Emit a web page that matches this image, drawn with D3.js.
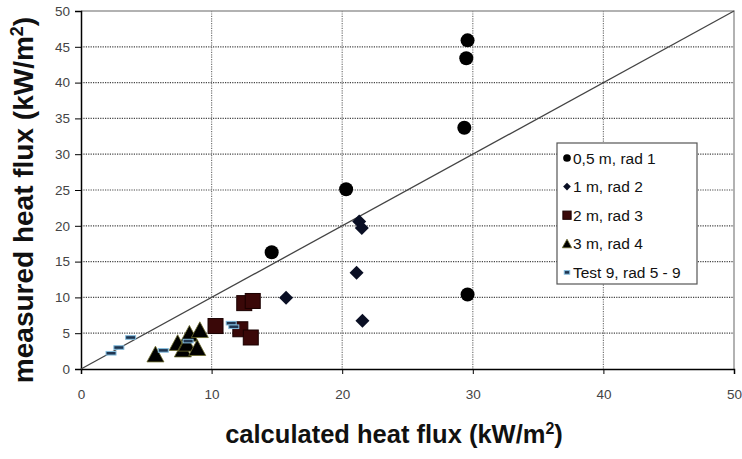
<!DOCTYPE html>
<html>
<head>
<meta charset="utf-8">
<script src="https://cdn.jsdelivr.net/npm/d3@7"></script>
<style>
  html, body { margin: 0; padding: 0; background: #fff; }
  svg { display: block; font-family: Arial, "Liberation Sans", sans-serif; }
</style>
</head>
<body>
<svg id="chart" width="742" height="459"></svg>
<script>
// Series: [calculated, measured] heat flux pairs (kW/m²)
const rad1 = [[14.6, 16.3], [20.3, 25.1], [29.35, 33.7], [29.5, 43.4], [29.6, 45.9], [29.6, 10.4]];
const rad2 = [[21.3, 20.6], [21.5, 19.7], [21.1, 13.45], [15.7, 9.95], [21.55, 6.75]];
const rad3 = [[10.3, 6.0], [12.5, 9.2], [13.15, 9.5], [12.2, 5.55], [13.0, 4.4]];
const rad4 = [[5.7, 2.0], [7.4, 3.6], [7.8, 2.7], [8.1, 3.5], [8.3, 4.9], [8.9, 2.9], [9.1, 5.4]];
const test9 = [[2.3, 2.2], [2.9, 3.0], [3.8, 4.4], [6.3, 2.6], [8.2, 3.9], [11.5, 6.4], [11.7, 5.9]];

const seriesNames = ["0,5 m, rad 1", "1 m, rad 2", "2 m, rad 3", "3 m, rad 4", "Test 9, rad 5 - 9"];
const xTicks = [0, 10, 20, 30, 40, 50];
const yTicks = [0, 5, 10, 15, 20, 25, 30, 35, 40, 45, 50];
const xTitle = "calculated heat flux (kW/m";
const yTitle = "measured heat flux (kW/m";

const svg = d3.select("#chart");
const plotL = 81, plotR = 734, plotT = 11, plotB = 369;

const x = d3.scaleLinear().domain([0, 50]).range([plotL, plotR]);
const y = d3.scaleLinear().domain([0, 50]).range([plotB, plotT]);

// dotted gridlines
svg.append("g").selectAll("line").data(yTicks.filter(v => v > 0 && v < 50)).join("line")
  .attr("x1", plotL).attr("x2", plotR)
  .attr("y1", d => y(d)).attr("y2", d => y(d))
  .attr("stroke", "#444").attr("stroke-width", 1.2).attr("stroke-dasharray", "1.2,1.2");
svg.append("g").selectAll("line").data(xTicks.filter(v => v > 0 && v < 50)).join("line")
  .attr("y1", plotT).attr("y2", plotB)
  .attr("x1", d => x(d)).attr("x2", d => x(d))
  .attr("stroke", "#777").attr("stroke-width", 1.2).attr("stroke-dasharray", "1.2,1.2");

// plot frame (top and right)
svg.append("path")
  .attr("d", `M${plotL},${plotT}H${plotR}V${plotB}`)
  .attr("fill", "none").attr("stroke", "#999").attr("stroke-width", 1.5);

// axes
const xAxis = svg.append("g").attr("transform", `translate(0,${plotB})`)
  .call(d3.axisBottom(x).tickValues(xTicks).tickSize(5).tickPadding(15));
const yAxis = svg.append("g").attr("transform", `translate(${plotL},0)`)
  .call(d3.axisLeft(y).tickValues(yTicks).tickSize(6).tickPadding(5));
[xAxis, yAxis].forEach(g => {
  g.select(".domain").attr("stroke", "#000").attr("stroke-width", 1.5);
  g.selectAll(".tick line").attr("stroke", "#000");
  g.selectAll("text").attr("font-size", 13.5).attr("fill", "#444")
    .attr("font-family", "Arial, 'Liberation Sans', sans-serif");
});

// 1:1 line
svg.append("line")
  .attr("x1", x(0)).attr("y1", y(0)).attr("x2", x(50)).attr("y2", y(50))
  .attr("stroke", "#444").attr("stroke-width", 1.3);

// marker painters
function drawCircle(g, cx, cy, s) {
  g.append("circle").attr("cx", cx).attr("cy", cy).attr("r", 7 * s).attr("fill", "#000");
}
function drawDiamond(g, cx, cy, s) {
  const r = 7 * s;
  g.append("path").attr("d", `M${cx},${cy - r}L${cx + r},${cy}L${cx},${cy + r}L${cx - r},${cy}Z`)
    .attr("fill", "#0a0f24");
}
function drawSquare(g, cx, cy, s) {
  const h = 7.5 * s;
  g.append("rect").attr("x", cx - h).attr("y", cy - h).attr("width", 2 * h).attr("height", 2 * h)
    .attr("fill", "#3a0808").attr("stroke", "#1a0000").attr("stroke-width", 1);
}
function drawTriangle(g, cx, cy, s) {
  const r = 8.5 * s;
  g.append("path").attr("d", `M${cx},${cy - r}L${cx + r},${cy + r * 0.85}L${cx - r},${cy + r * 0.85}Z`)
    .attr("fill", "#000").attr("stroke", "#6b6a2a").attr("stroke-width", 0.8);
}
function drawDash(g, cx, cy, s) {
  g.append("rect").attr("x", cx - 5 * s).attr("y", cy - 1.8).attr("width", 10 * s).attr("height", 3.6)
    .attr("fill", "#1f3550").attr("stroke", "#86bfe0").attr("stroke-width", 1);
}

const series = [
  { data: rad1, draw: drawCircle },
  { data: rad2, draw: drawDiamond },
  { data: rad3, draw: drawSquare },
  { data: rad4, draw: drawTriangle },
  { data: test9, draw: drawDash }
];

const marks = svg.append("g");
series.forEach(sr => {
  sr.data.forEach(d => sr.draw(marks, x(d[0]), y(d[1]), 1));
});

// legend
const lg = svg.append("g");
lg.append("rect").attr("x", 557).attr("y", 143).attr("width", 140).attr("height", 141)
  .attr("fill", "#fff").attr("stroke", "#555").attr("stroke-width", 1.2);
seriesNames.forEach((name, i) => {
  const cy = 158 + i * 28.6;
  series[i].draw(lg, 567, cy, 0.55);
  lg.append("text").attr("x", 573).attr("y", cy + 5.5).attr("font-size", 15.5)
    .attr("fill", "#111").text(name);
});

// axis titles
const xt = svg.append("text").attr("x", 394).attr("y", 443).attr("text-anchor", "middle")
  .attr("font-size", 25.5).attr("font-weight", "bold").attr("fill", "#111");
xt.append("tspan").text(xTitle);
xt.append("tspan").attr("font-size", 16).attr("dy", -9).text("2");
xt.append("tspan").attr("dy", 9).text(")");

const yt = svg.append("text").attr("transform", "translate(33,200) rotate(-90)")
  .attr("text-anchor", "middle").attr("font-size", 28).attr("font-weight", "bold").attr("fill", "#111");
yt.append("tspan").text(yTitle);
yt.append("tspan").attr("font-size", 18).attr("dy", -10).text("2");
yt.append("tspan").attr("dy", 10).text(")");
</script>
</body>
</html>
